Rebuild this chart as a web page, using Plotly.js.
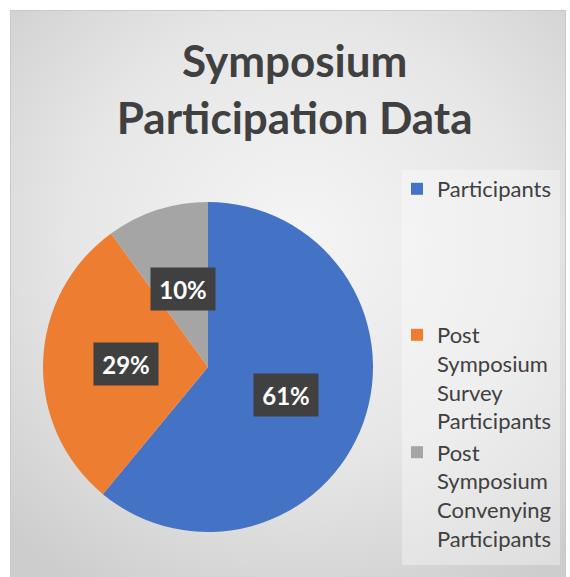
<!DOCTYPE html>
<html>
<head>
<meta charset="utf-8">
<script src="https://cdn.plot.ly/plotly-3.0.1.min.js"></script>
<style>
  html, body { margin: 0; padding: 0; background: #ffffff; }
  #wrap { position: relative; width: 570px; height: 577px; overflow: hidden; }
  #bg { position: absolute; left: 10px; top: 10px; width: 556px; height: 580px;
        border: 1px solid #c9c9c9; box-sizing: border-box;
        background: radial-gradient(ellipse 75% 70% at 52% 40%, #f5f5f5 0%, #e6e6e6 55%, #cdcdcd 100%); }
  #chart { position: absolute; left: 0; top: 0; width: 570px; height: 577px; }
</style>
</head>
<body>
<div id="wrap">
  <div id="bg"></div>
  <div id="chart"></div>
</div>
<script>
// ---- data ----
const categories = ["Participants", "Post Symposium Survey Participants", "Post Symposium Convenying Participants"];
const legendLabels = ["Participants<br> <br> <br> <br> ", "Post<br>Symposium<br>Survey<br>Participants", "Post<br>Symposium<br>Convenying<br>Participants"];
const shares = [61, 29, 10];
const sliceColors = ["#4472C4", "#ED7D31", "#A5A5A5"];
const titleText = "Symposium<br>Participation Data";

// ---- layout constants ----
const W = 570, H = 577;
const pieLeft = 43, pieRight = 373, pieTop = 202, pieBottom = 532;
const cx = (pieLeft + pieRight) / 2, cy = (pieTop + pieBottom) / 2;
const R = (pieRight - pieLeft) / 2;

const trace = {
  type: "pie",
  labels: legendLabels,
  values: shares,
  customdata: categories,
  sort: false,
  direction: "clockwise",
  rotation: 0,
  textinfo: "none",
  hoverinfo: "skip",
  marker: { colors: sliceColors, line: { width: 0 } },
  domain: { x: [pieLeft / W, pieRight / W], y: [1 - pieBottom / H, 1 - pieTop / H] },
  showlegend: true
};

// data labels placed at half radius at each slice's mid angle
const total = shares.reduce((a, b) => a + b, 0);
let cum = 0;
const annotations = shares.map((v) => {
  const mid = (cum + v / 2) / total * 2 * Math.PI;
  cum += v;
  const px = cx + 0.5 * R * Math.sin(mid);
  const py = cy - 0.5 * R * Math.cos(mid);
  return {
    xref: "paper", yref: "paper", x: px / W, y: 1 - py / H,
    xanchor: "center", yanchor: "middle",
    text: "<b>" + Math.round(v / total * 100) + "%</b>",
    showarrow: false,
    font: { family: "Lato, sans-serif", size: 24, color: "#ffffff" },
    bgcolor: "#404040",
    width: 50, height: 28, borderpad: 7
  };
});

const layout = {
  width: W, height: H,
  margin: { l: 0, r: 0, t: 0, b: 0 },
  paper_bgcolor: "rgba(0,0,0,0)",
  plot_bgcolor: "rgba(0,0,0,0)",
  title: {
    text: "<b>" + titleText + "</b>",
    font: { family: "Lato, sans-serif", size: 44, color: "#404040" },
    x: 0.517, xanchor: "center",
    y: 1 - 77 / H, yanchor: "top"
  },
  legend: {
    x: 397 / W, xanchor: "left",
    y: 1 - 168 / H, yanchor: "top",
    bgcolor: "rgba(0,0,0,0)",
    font: { family: "Lato, sans-serif", size: 22, color: "#404040" },
    valign: "top",
    tracegroupgap: 0
  },
  shapes: [{
    type: "rect", xref: "paper", yref: "paper",
    x0: 402 / W, x1: 560 / W, y0: 1 - 565 / H, y1: 1 - 170 / H,
    fillcolor: "rgba(255,255,255,0.35)", line: { width: 0 }, layer: "below"
  }],
  annotations: annotations
};

Plotly.newPlot("chart", [trace], layout, { displayModeBar: false, staticPlot: true });
</script>
</body>
</html>
